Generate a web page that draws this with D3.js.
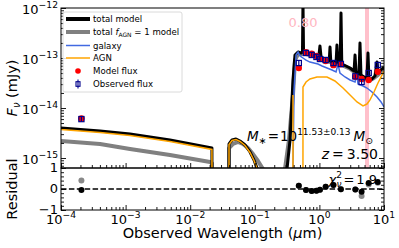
<!DOCTYPE html>
<html><head><meta charset="utf-8">
<script src="https://cdn.jsdelivr.net/npm/d3@7"></script>
<style>body{margin:0;background:#fff} svg{display:block} text{font-family:"DejaVu Sans",sans-serif;fill:#000}</style>
</head><body><svg id="c" width="399" height="248"></svg>
<script>
// ---------------- data (wavelength in micron, flux in mJy) ----------------
const totalModel = [[1e-4,3.98e-15],[4.02e-4,3.47e-15],[1.17e-3,3.02e-15],[4.86e-3,2.29e-15],[0.0217,1.58e-15],[0.0218,1e-17],
 [0.0398,1e-17],[0.0399,1.91e-15],[0.0444,2.29e-15],[0.0512,2.40e-15],[0.059,2.19e-15],[0.0705,1.82e-15],[0.0843,1.32e-15],[0.0973,9.1e-16],[0.108,6.3e-16],[0.115,1e-17],
 [0.29,1e-17],[0.315,6.0e-16],[0.351,2.29e-15],[0.390,3.63e-14],[0.419,1.15e-13],[0.467,1.32e-13],[0.519,1.26e-13],[0.547,1.32e-13],[0.557,1.3e-12],[0.568,1.32e-13],
 [0.621,1.26e-13],[0.714,1.20e-13],[0.824,1.15e-13],[0.918,1.10e-13],[0.98,1.08e-13],[1.02,1.74e-13],[1.06,1.05e-13],[1.14,1.0e-13],[1.31,9.1e-14],[1.42,8.8e-14],
 [1.46,1.66e-13],[1.50,8.6e-14],[1.57,8.3e-14],[1.81,7.94e-14],[1.87,1.82e-13],[1.94,7.94e-14],[2.10,7.8e-14],[2.16,7.94e-13],[2.22,7.59e-14],[2.58,6.92e-14],
 [2.98,6.31e-14],[3.44,5.50e-14],[3.56,1.15e-13],[3.69,5.25e-14],[4.10,4.79e-14],[4.25,2.0e-13],[4.40,4.57e-14],[4.90,4.17e-14],[5.45,3.8e-14],[5.65,1.26e-13],
 [5.86,3.63e-14],[6.50,3.8e-14],[7.25,4.37e-14],[7.80,8.32e-14],[8.07,5.0e-14],[8.90,5.75e-14],[10,6.6e-14]];
const totalAgn1Model = [[1e-4,2.19e-15],[4.02e-4,1.91e-15],[1.17e-3,1.51e-15],[4.86e-3,1.15e-15],[0.0203,8.3e-16],[0.0217,7.9e-16],[0.0218,1e-17],
 [0.0398,1e-17],[0.0399,1.58e-15],[0.046,1.91e-15],[0.055,2.09e-15],[0.0656,1.91e-15],[0.0785,1.58e-15],[0.0938,1.20e-15],[0.112,8.7e-16],[0.134,6.0e-16],[0.14,1e-17],
 [0.29,1e-17],[0.293,6e-16],[0.338,2.29e-15],[0.390,1.82e-14],[0.419,9.1e-14],[0.467,1.20e-13],[0.519,1.2e-13],[0.621,1.2e-13],[0.824,1.1e-13],[1.14,9.5e-14],
 [1.57,8.0e-14],[2.24,7.2e-14],[2.98,6.1e-14],[3.96,4.6e-14],[4.9,4.0e-14],[5.86,3.5e-14],[7.0,4.0e-14],[8.07,4.6e-14],[10,6.0e-14]];
const galaxy = [[0.389,1e-17],[0.390,5.8e-16],[0.405,2.29e-14],[0.435,1.15e-13],[0.467,1.32e-13],[0.501,1.10e-13],[0.557,1.0e-13],[0.621,9.1e-14],
 [0.714,8.3e-14],[0.824,7.94e-14],[0.95,7.59e-14],[1.10,6.92e-14],[1.31,6.31e-14],[1.57,5.75e-14],[1.81,5.25e-14],[1.94,7.6e-14],[2.08,5.01e-14],[2.49,4.17e-14],
 [2.98,3.63e-14],[3.56,3.31e-14],[3.8,4.79e-14],[3.96,3.02e-14],[4.73,2.75e-14],[5.45,2.51e-14],[6.52,2.09e-14],[7.80,1.66e-14],[9.0,1.32e-14],[10,1.05e-14]];
const agn = [[1e-4,3.72e-15],[4.02e-4,3.24e-15],[1.17e-3,2.82e-15],[4.86e-3,2.14e-15],[0.0217,1.48e-15],[0.0218,1e-17],
 [0.0398,1e-17],[0.0399,1.86e-15],[0.0444,2.24e-15],[0.0512,2.34e-15],[0.059,2.14e-15],[0.0705,1.78e-15],[0.0843,1.29e-15],[0.0973,8.9e-16],[0.108,6.2e-16],[0.115,1e-17],
 [0.388,1e-17],[0.390,1.82e-14],[0.393,1e-17],[0.556,1e-17],[0.557,2.63e-14],[0.621,3.31e-14],[0.714,3.80e-14],[0.918,4.17e-14],[1.31,4.17e-14],[1.74,3.47e-14],
 [2.32,2.51e-14],[2.98,1.82e-14],[3.82,1.32e-14],[4.73,1.10e-14],[5.45,1.20e-14],[6.07,1.45e-14],[7.0,2.09e-14],[8.07,3.16e-14],[10,5.50e-14]];

const bandWave  = [2.07e-4, 0.48, 0.62, 0.76, 0.90, 1.02, 1.25, 1.65, 2.15, 3.6, 4.5, 5.8, 8.0];
const obsFlux   = [6.0e-15, 7.94e-14, 1.26e-13, 1.15e-13, 1.05e-13, 9.55e-14, 9.12e-14, 7.94e-14, 7.59e-14, 4.3e-14, 3.31e-14, 5.01e-14, 7.24e-14];
const obsErr    = [0.6e-15, 0.8e-14, 0.13e-13, 0.12e-13, 0.1e-13, 0.9e-14, 0.9e-14, 0.8e-14, 0.75e-14, 0.4e-14, 0.33e-14, 0.5e-14, 0.7e-14];
const modelFlux = [6.2e-15, 6.3e-14, 1.30e-13, 1.22e-13, 1.10e-13, 9.6e-14, 8.7e-14, 7.2e-14, 7.5e-14, 4.2e-14, 3.8e-14, 3.63e-14, 5.3e-14];
const resid     = [-0.05, 0.16, -0.05, -0.10, -0.08, -0.03, 0.11, 0.19, -0.01, -0.02, -0.13, 0.29, 0.33];
const residAgn1 = [0.40, 0.16, -0.05, -0.10, -0.08, -0.03, 0.11, 0.19, -0.01, -0.02, -0.33, 0.22, 0.30];
const fagnBand  = [5.08, 5.86];
const xTicks = [1e-4, 1e-3, 1e-2, 1e-1, 1, 10];
const xTickExp = ["−4", "−3", "−2", "−1", "0", "1"];
const yTicks = [1e-15, 1e-14, 1e-13, 1e-12];
const yTickExp = ["−15", "−14", "−13", "−12"];
const rTicks = [-1, 0, 1];

// ---------------- layout ----------------
const L = 61, R = 384, T = 8, MB = 168, RB = 210;
const svg = d3.select("#c");
const x = d3.scaleLog().domain([1e-4, 10]).range([L, R]);
const y = d3.scaleLog().domain([Math.pow(10, -15.2), 1e-12]).range([MB, T]);
const yr = d3.scaleLinear().domain([-1, 1]).range([RB, MB]);

const defs = svg.append("defs");
defs.append("clipPath").attr("id", "cm").append("rect").attr("x", L).attr("y", T).attr("width", R - L).attr("height", MB - T);
defs.append("clipPath").attr("id", "cr").append("rect").attr("x", L).attr("y", MB).attr("width", R - L).attr("height", RB - MB);

// pink band
const gm = svg.append("g").attr("clip-path", "url(#cm)");
gm.append("rect").attr("x", x(fagnBand[0])).attr("width", x(fagnBand[1]) - x(fagnBand[0]))
  .attr("y", T).attr("height", MB - T).attr("fill", "#ffc0cb");

const line = d3.line().x(d => x(d[0])).y(d => y(d[1]));
gm.append("path").datum(totalAgn1Model).attr("d", line).attr("fill", "none").attr("stroke", "#808080").attr("stroke-width", 4).attr("stroke-linejoin", "round");
gm.append("path").datum(totalModel).attr("d", line).attr("fill", "none").attr("stroke", "#000").attr("stroke-width", 3).attr("stroke-linejoin", "round");
gm.append("path").datum(galaxy).attr("d", line).attr("fill", "none").attr("stroke", "royalblue").attr("stroke-width", 1.5);
gm.append("path").datum(agn).attr("d", line).attr("fill", "none").attr("stroke", "orange").attr("stroke-width", 1.5);

// f_AGN text
gm.append("text").attr("x", 303).attr("y", 27).attr("text-anchor", "middle").attr("font-size", 13).style("fill", "#ffb6c1").text("0.80");

// model flux and observations
gm.selectAll("circle.mf").data(bandWave).join("circle").attr("class", "mf")
  .attr("cx", d => x(d)).attr("cy", (d, i) => y(modelFlux[i])).attr("r", 3.2).attr("fill", "red");
const obs = gm.selectAll("g.ob").data(bandWave).join("g").attr("class", "ob");
obs.append("line").attr("x1", d => x(d)).attr("x2", d => x(d))
  .attr("y1", (d, i) => y(obsFlux[i] + obsErr[i])).attr("y2", (d, i) => y(obsFlux[i] - obsErr[i]))
  .attr("stroke", "darkblue").attr("stroke-width", 1.2);
obs.append("rect").attr("x", d => x(d) - 2.6).attr("y", (d, i) => y(obsFlux[i]) - 2.6).attr("width", 5.2).attr("height", 5.2)
  .attr("fill", "none").attr("stroke", "darkblue").attr("stroke-width", 1.2);

// residuals
const gr = svg.append("g").attr("clip-path", "url(#cr)");
gr.append("line").attr("x1", L).attr("x2", R).attr("y1", yr(0)).attr("y2", yr(0))
  .attr("stroke", "#000").attr("stroke-width", 1.5).attr("stroke-dasharray", "5.5,2.4");
gr.selectAll("circle.ra").data(bandWave).join("circle").attr("class", "ra")
  .attr("cx", d => x(d)).attr("cy", (d, i) => yr(residAgn1[i])).attr("r", 3).attr("fill", "#888");
gr.selectAll("circle.rb").data(bandWave).join("circle").attr("class", "rb")
  .attr("cx", d => x(d)).attr("cy", (d, i) => yr(resid[i])).attr("r", 3).attr("fill", "#000");

// ---------------- axes ----------------
function minorLog(lo, hi) {
  const out = [];
  for (let e = -16; e <= 1; e++) for (let m = 2; m <= 9; m++) { const v = m * Math.pow(10, e); if (v >= lo && v <= hi) out.push(v); }
  return out;
}
function clean(g) { g.select(".domain").remove(); g.selectAll("line").attr("stroke", "#000").attr("stroke-width", 0.9); }
const yMin = minorLog(y.domain()[0], 1e-12), xMin = minorLog(1e-4, 10);
const rMin = d3.range(-1, 1.001, 0.2);

svg.append("g").attr("transform", `translate(${L},0)`).call(d3.axisLeft(y).tickValues(yTicks).tickSize(-5).tickFormat("")).call(clean);
svg.append("g").attr("transform", `translate(${L},0)`).call(d3.axisLeft(y).tickValues(yMin).tickSize(-3).tickFormat("")).call(clean);
svg.append("g").attr("transform", `translate(${R},0)`).call(d3.axisRight(y).tickValues(yTicks).tickSize(-5).tickFormat("")).call(clean);
svg.append("g").attr("transform", `translate(${R},0)`).call(d3.axisRight(y).tickValues(yMin).tickSize(-3).tickFormat("")).call(clean);
[MB, RB].forEach(b => {
  svg.append("g").attr("transform", `translate(0,${b})`).call(d3.axisBottom(x).tickValues(xTicks).tickSize(-5).tickFormat("")).call(clean);
  svg.append("g").attr("transform", `translate(0,${b})`).call(d3.axisBottom(x).tickValues(xMin).tickSize(-3).tickFormat("")).call(clean);
});
svg.append("g").attr("transform", `translate(${L},0)`).call(d3.axisLeft(yr).tickValues(rTicks).tickSize(-5).tickFormat("")).call(clean);
svg.append("g").attr("transform", `translate(${L},0)`).call(d3.axisLeft(yr).tickValues(rMin).tickSize(-3).tickFormat("")).call(clean);
svg.append("g").attr("transform", `translate(${R},0)`).call(d3.axisRight(yr).tickValues(rTicks).tickSize(-5).tickFormat("")).call(clean);
svg.append("g").attr("transform", `translate(${R},0)`).call(d3.axisRight(yr).tickValues(rMin).tickSize(-3).tickFormat("")).call(clean);

// frames
[[T, MB], [MB, RB]].forEach(([a, b]) => svg.append("rect").attr("x", L).attr("y", a).attr("width", R - L).attr("height", b - a)
  .attr("fill", "none").attr("stroke", "#000").attr("stroke-width", 1));

// tick labels
function powLabel(px, py, exp, anchor) {
  const t = svg.append("text").attr("x", px).attr("y", py).attr("text-anchor", anchor).attr("font-size", 13);
  t.append("tspan").text("10");
  t.append("tspan").attr("dy", -5.5).attr("font-size", 9.2).text(exp);
}
yTicks.forEach((v, i) => powLabel(58, y(v) + 5.5, yTickExp[i], "end"));
xTicks.forEach((v, i) => powLabel(x(v), RB + 13.5, xTickExp[i], "middle"));
rTicks.forEach(v => svg.append("text").attr("x", 58).attr("y", yr(v) + 4.3).attr("text-anchor", "end").attr("font-size", 13).text(v < 0 ? "−" + Math.abs(v) : v));

// axis titles
const yt = svg.append("text").attr("transform", `translate(17,${(T + MB) / 2}) rotate(-90)`).attr("text-anchor", "middle").attr("font-size", 14.5);
yt.append("tspan").attr("font-style", "italic").text("F");
yt.append("tspan").attr("dy", 3).attr("font-size", 10).attr("font-style", "italic").text("ν");
yt.append("tspan").attr("dy", -3).text(" (mJy)");
svg.append("text").attr("transform", `translate(17,${(MB + RB) / 2}) rotate(-90)`).attr("text-anchor", "middle").attr("font-size", 14.5).text("Residual");
const xt = svg.append("text").attr("x", (L + R) / 2).attr("y", 238).attr("text-anchor", "middle").attr("font-size", 14.5);
xt.append("tspan").text("Observed Wavelength (");
xt.append("tspan").attr("font-style", "italic").text("μ");
xt.append("tspan").text("m)");

// annotations
const ms = svg.append("text").attr("x", 247).attr("y", 141).attr("font-size", 13.5);
ms.append("tspan").attr("font-style", "italic").text("M");
ms.append("tspan").attr("dy", 3).attr("font-size", 9.5).text("∗");
ms.append("tspan").attr("dy", -3).attr("dx", 1).text("=");
ms.append("tspan").attr("dx", 1).text("10");
ms.append("tspan").attr("dy", -6).attr("font-size", 9).text("11.53±0.13");
ms.append("tspan").attr("dy", 6).attr("dx", 3).attr("font-style", "italic").text("M");
ms.append("tspan").attr("dy", 3).attr("font-size", 9.5).text("⊙");
const zt = svg.append("text").attr("x", 378).attr("y", 159).attr("text-anchor", "end").attr("font-size", 14);
zt.append("tspan").attr("font-style", "italic").text("z");
zt.append("tspan").attr("dx", 3).text("=");
zt.append("tspan").attr("dx", 3).text("3.50");
const ct = svg.append("text").attr("x", 377).attr("y", 184).attr("text-anchor", "end").attr("font-size", 13);
ct.append("tspan").attr("font-style", "italic").text("χ");
ct.append("tspan").attr("dy", -6).attr("font-size", 9).text("2");
ct.append("tspan").attr("dx", -5.5).attr("dy", 9).attr("font-size", 9).attr("font-style", "italic").text("ν");
ct.append("tspan").attr("dy", -3).attr("dx", 2).text("=");
ct.append("tspan").attr("dx", 2).text("1.9");

// legend
const lg = svg.append("g");
lg.append("rect").attr("x", 63).attr("y", 12).attr("width", 119).attr("height", 80).attr("rx", 2)
  .attr("fill", "#fff").attr("fill-opacity", 0.85).attr("stroke", "#d0d0d0").attr("stroke-width", 0.8);
const ly = [19, 32, 45.5, 58, 71, 84];
const lineItems = [["#000", 4], ["#808080", 4], ["royalblue", 1.5], ["orange", 1.5]];
lineItems.forEach(([c, w], i) => lg.append("line").attr("x1", 66).attr("x2", 90).attr("y1", ly[i]).attr("y2", ly[i]).attr("stroke", c).attr("stroke-width", w));
lg.append("circle").attr("cx", 78).attr("cy", ly[4]).attr("r", 2.8).attr("fill", "red");
lg.append("line").attr("x1", 78).attr("x2", 78).attr("y1", ly[5] - 4.5).attr("y2", ly[5] + 4.5).attr("stroke", "darkblue").attr("stroke-width", 1.1);
lg.append("rect").attr("x", 76).attr("y", ly[5] - 2.3).attr("width", 4).attr("height", 4.6).attr("fill", "none").attr("stroke", "darkblue").attr("stroke-width", 1.1);
function legText(i) { return lg.append("text").attr("x", 93).attr("y", ly[i] + 3.1).attr("font-size", 8.6); }
legText(0).text("total model");
const l1 = legText(1);
l1.append("tspan").text("total ");
l1.append("tspan").attr("font-style", "italic").text("f");
l1.append("tspan").attr("dy", 2).attr("font-size", 6).text("AGN");
l1.append("tspan").attr("dy", -2).text(" = 1 model");
legText(2).text("galaxy");
legText(3).text("AGN");
legText(4).text("Model flux");
legText(5).text("Observed flux");
</script></body></html>
